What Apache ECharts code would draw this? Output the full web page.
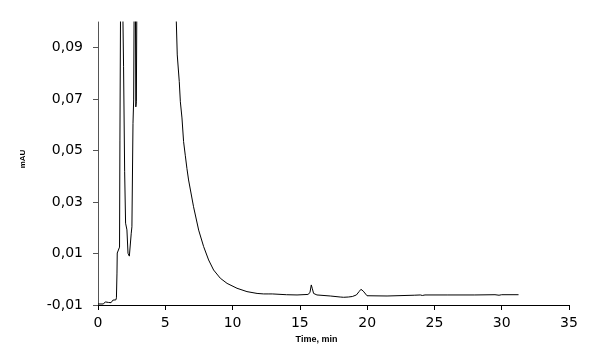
<!DOCTYPE html>
<html>
<head>
<meta charset="utf-8">
<script src="https://cdn.jsdelivr.net/npm/echarts@6/dist/echarts.min.js"></script>
<style>
html,body{margin:0;padding:0;background:#fff;}
#chart{width:600px;height:356px;}
</style>
</head>
<body>
<div id="chart"></div>
<script>
// Time (min) and absorbance (mAU)
const timeMin = [0, 0.4, 0.5, 0.54, 0.67, 0.77, 0.86, 0.97, 1.11, 1.21, 1.33, 1.37, 1.41, 1.43, 1.6, 1.63, 1.68, 1.75, 1.83, 1.9, 1.98, 2.05, 2.15, 2.23, 2.33, 2.45, 2.47, 2.52, 2.6, 2.65, 2.7, 2.74, 2.78, 2.81, 2.85, 2.9, 3.2, 4.0, 5.0, 5.5, 5.82, 5.89, 5.99, 6.04, 6.12, 6.24, 6.36, 6.49, 6.61, 6.73, 7.1, 7.48, 7.85, 8.22, 8.59, 9.09, 9.59, 10.33, 11.07, 11.82, 12.31, 12.7, 12.8, 12.95, 13.05, 14.0, 14.79, 15.6, 15.75, 15.85, 15.93, 16.02, 16.27, 17.26, 18.0, 18.25, 18.6, 18.9, 19.2, 19.4, 19.54, 19.71, 19.99, 21.48, 23.5, 23.95, 24.1, 24.3, 26.0, 28.0, 29.5, 29.8, 30.0, 31.25];
const absorbance = [-0.0096, -0.0096, -0.0094, -0.0088, -0.0091, -0.0090, -0.0084, -0.0091, -0.0081, -0.0083, -0.0080, -0.0072, 0.0024, 0.0102, 0.0125, 0.0541, 0.11, 0.3, 0.11, 0.0826, 0.0418, 0.0218, 0.0192, 0.0101, 0.0090, 0.0094, 0.0179, 0.0204, 0.0606, 0.0697, 0.12, 0.15, 0.11, 0.067, 0.069, 0.12, 0.6, 0.8, 0.3, 0.14, 0.1, 0.0872, 0.0865, 0.0768, 0.0690, 0.0627, 0.0535, 0.048, 0.043, 0.0386, 0.0282, 0.0191, 0.0127, 0.0075, 0.0036, 0.0004, -0.0016, -0.0035, -0.0048, -0.0055, -0.0057, -0.0057, -0.0052, -0.0057, -0.0058, -0.0060, -0.0061, -0.0059, -0.0052, -0.0022, -0.0037, -0.0055, -0.0061, -0.0065, -0.0069, -0.0070, -0.0069, -0.0067, -0.0061, -0.0048, -0.0039, -0.0046, -0.0064, -0.0065, -0.0062, -0.0061, -0.0063, -0.0061, -0.0061, -0.0061, -0.0060, -0.0062, -0.0060, -0.0060];
const yTicks = [-0.01, 0.01, 0.03, 0.05, 0.07, 0.09];
const xTicks = [0, 5, 10, 15, 20, 25, 30, 35];

const seriesData = timeMin.map((t, i) => [t, absorbance[i]]);

const chart = echarts.init(document.getElementById('chart'), null, {renderer: 'canvas'});
chart.setOption({
  animation: false,
  backgroundColor: '#ffffff',
  grid: {left: 98, right: 31, top: 22, bottom: 51, containLabel: false},
  xAxis: {
    type: 'value',
    min: xTicks[0],
    max: xTicks[xTicks.length - 1],
    interval: 5,
    name: 'Time, min',
    nameLocation: 'middle',
    nameGap: 30,
    nameTextStyle: {fontFamily: 'Liberation Sans', fontSize: 9, fontWeight: 'bold', color: '#000', padding: [0, 34, 0, 0]},
    axisLine: {show: true, onZero: false, lineStyle: {color: '#000', width: 1}},
    axisTick: {show: true, length: 5, lineStyle: {color: '#000'}},
    axisLabel: {fontFamily: 'DejaVu Sans', fontSize: 14, color: '#000', margin: 11},
    splitLine: {show: false}
  },
  yAxis: {
    type: 'value',
    min: -0.01,
    max: 0.1,
    name: 'mAU',
    nameLocation: 'middle',
    nameGap: 71,
    nameTextStyle: {fontFamily: 'Liberation Sans', fontSize: 8, fontWeight: 'bold', color: '#000', padding: [0, 0, 0, 9]},
    axisLine: {show: true, onZero: false, lineStyle: {color: '#555', width: 1}},
    axisTick: {show: true, length: 5, customValues: yTicks, lineStyle: {color: '#555'}},
    axisLabel: {
      customValues: yTicks,
      fontFamily: 'DejaVu Sans', fontSize: 14, color: '#000', margin: 15,
      formatter: v => v.toFixed(2).replace('.', ',')
    },
    splitLine: {show: false}
  },
  series: [{
    type: 'line',
    data: seriesData,
    showSymbol: false,
    symbol: 'none',
    clip: true,
    lineStyle: {color: '#000', width: 1},
    smooth: false
  }]
});
</script>
</body>
</html>
